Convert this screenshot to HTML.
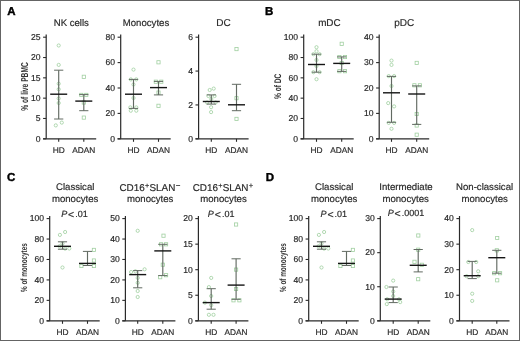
<!DOCTYPE html>
<html><head><meta charset="utf-8"><style>
html,body{margin:0;padding:0;background:#fff;width:520px;height:341px;overflow:hidden}
svg{will-change:transform} svg text{font-family:"Liberation Sans", sans-serif;fill:#2a2a2a;stroke:#2a2a2a;stroke-width:0.18px;text-rendering:geometricPrecision}
</style></head><body>
<svg width="520" height="341" viewBox="0 0 520 341" style="display:block">
<rect x="0" y="0" width="520" height="341" fill="#fff"/>
<g><line x1="46.2" y1="34.6" x2="46.2" y2="138.8" stroke="#2a2a2a" stroke-width="1.2"/><line x1="43.1" y1="138.8" x2="96.2" y2="138.8" stroke="#2a2a2a" stroke-width="1.2"/><line x1="43.1" y1="138.80" x2="46.2" y2="138.80" stroke="#2a2a2a" stroke-width="1.1"/><text x="40.6" y="141.60" text-anchor="end" font-size="8.6">0</text><line x1="43.1" y1="118.48" x2="46.2" y2="118.48" stroke="#2a2a2a" stroke-width="1.1"/><text x="40.6" y="121.28" text-anchor="end" font-size="8.6">5</text><line x1="43.1" y1="98.16" x2="46.2" y2="98.16" stroke="#2a2a2a" stroke-width="1.1"/><text x="40.6" y="100.96" text-anchor="end" font-size="8.6">10</text><line x1="43.1" y1="77.84" x2="46.2" y2="77.84" stroke="#2a2a2a" stroke-width="1.1"/><text x="40.6" y="80.64" text-anchor="end" font-size="8.6">15</text><line x1="43.1" y1="57.52" x2="46.2" y2="57.52" stroke="#2a2a2a" stroke-width="1.1"/><text x="40.6" y="60.32" text-anchor="end" font-size="8.6">20</text><line x1="43.1" y1="37.20" x2="46.2" y2="37.20" stroke="#2a2a2a" stroke-width="1.1"/><text x="40.6" y="40.00" text-anchor="end" font-size="8.6">25</text><line x1="58.7" y1="138.8" x2="58.7" y2="141.8" stroke="#2a2a2a" stroke-width="1.1"/><line x1="83.8" y1="138.8" x2="83.8" y2="141.8" stroke="#2a2a2a" stroke-width="1.1"/><text x="58.7" y="152.70000000000002" text-anchor="middle" font-size="8.4">HD</text><text x="83.8" y="152.70000000000002" text-anchor="middle" font-size="8.3">ADAN</text><circle cx="58.7" cy="45.5" r="1.6" fill="none" stroke="#a0cfa0" stroke-width="0.8"/><circle cx="58.7" cy="64.9" r="1.6" fill="none" stroke="#a0cfa0" stroke-width="0.8"/><circle cx="58.7" cy="83.7" r="1.6" fill="none" stroke="#a0cfa0" stroke-width="0.8"/><circle cx="58.7" cy="89.3" r="1.6" fill="none" stroke="#a0cfa0" stroke-width="0.8"/><circle cx="58.7" cy="98.5" r="1.6" fill="none" stroke="#a0cfa0" stroke-width="0.8"/><circle cx="58.7" cy="103" r="1.6" fill="none" stroke="#a0cfa0" stroke-width="0.8"/><circle cx="55.800000000000004" cy="125.4" r="1.6" fill="none" stroke="#a0cfa0" stroke-width="0.8"/><circle cx="61.800000000000004" cy="122.6" r="1.6" fill="none" stroke="#a0cfa0" stroke-width="0.8"/><rect x="82.2" y="75.2" width="3.2" height="3.2" fill="none" stroke="#a0cfa0" stroke-width="0.8"/><rect x="79.7" y="93.30000000000001" width="3.2" height="3.2" fill="none" stroke="#a0cfa0" stroke-width="0.8"/><rect x="84.7" y="93.30000000000001" width="3.2" height="3.2" fill="none" stroke="#a0cfa0" stroke-width="0.8"/><rect x="82.2" y="100.9" width="3.2" height="3.2" fill="none" stroke="#a0cfa0" stroke-width="0.8"/><rect x="82.2" y="116.0" width="3.2" height="3.2" fill="none" stroke="#a0cfa0" stroke-width="0.8"/><line x1="58.7" y1="70.2" x2="58.7" y2="119.0" stroke="#626a62" stroke-width="1.15"/><line x1="54.1" y1="70.2" x2="63.300000000000004" y2="70.2" stroke="#626a62" stroke-width="1.0"/><line x1="54.1" y1="119.0" x2="63.300000000000004" y2="119.0" stroke="#626a62" stroke-width="1.0"/><line x1="50.2" y1="94.2" x2="67.2" y2="94.2" stroke="#151515" stroke-width="1.4"/><line x1="83.8" y1="94.6" x2="83.8" y2="110.7" stroke="#626a62" stroke-width="1.15"/><line x1="79.2" y1="94.6" x2="88.39999999999999" y2="94.6" stroke="#626a62" stroke-width="1.0"/><line x1="79.2" y1="110.7" x2="88.39999999999999" y2="110.7" stroke="#626a62" stroke-width="1.0"/><line x1="75.3" y1="101.1" x2="92.3" y2="101.1" stroke="#151515" stroke-width="1.4"/></g>
<g><line x1="120.7" y1="34.6" x2="120.7" y2="138.8" stroke="#2a2a2a" stroke-width="1.2"/><line x1="117.60000000000001" y1="138.8" x2="170.7" y2="138.8" stroke="#2a2a2a" stroke-width="1.2"/><line x1="117.60000000000001" y1="138.80" x2="120.7" y2="138.80" stroke="#2a2a2a" stroke-width="1.1"/><text x="115.10000000000001" y="141.60" text-anchor="end" font-size="8.6">0</text><line x1="117.60000000000001" y1="113.40" x2="120.7" y2="113.40" stroke="#2a2a2a" stroke-width="1.1"/><text x="115.10000000000001" y="116.20" text-anchor="end" font-size="8.6">20</text><line x1="117.60000000000001" y1="88.00" x2="120.7" y2="88.00" stroke="#2a2a2a" stroke-width="1.1"/><text x="115.10000000000001" y="90.80" text-anchor="end" font-size="8.6">40</text><line x1="117.60000000000001" y1="62.60" x2="120.7" y2="62.60" stroke="#2a2a2a" stroke-width="1.1"/><text x="115.10000000000001" y="65.40" text-anchor="end" font-size="8.6">60</text><line x1="117.60000000000001" y1="37.20" x2="120.7" y2="37.20" stroke="#2a2a2a" stroke-width="1.1"/><text x="115.10000000000001" y="40.00" text-anchor="end" font-size="8.6">80</text><line x1="133.5" y1="138.8" x2="133.5" y2="141.8" stroke="#2a2a2a" stroke-width="1.1"/><line x1="158.5" y1="138.8" x2="158.5" y2="141.8" stroke="#2a2a2a" stroke-width="1.1"/><text x="133.5" y="152.70000000000002" text-anchor="middle" font-size="8.4">HD</text><text x="158.5" y="152.70000000000002" text-anchor="middle" font-size="8.3">ADAN</text><circle cx="133.5" cy="69.6" r="1.6" fill="none" stroke="#a0cfa0" stroke-width="0.8"/><circle cx="130.8" cy="79.4" r="1.6" fill="none" stroke="#a0cfa0" stroke-width="0.8"/><circle cx="136.3" cy="79.4" r="1.6" fill="none" stroke="#a0cfa0" stroke-width="0.8"/><circle cx="133.5" cy="84.5" r="1.6" fill="none" stroke="#a0cfa0" stroke-width="0.8"/><circle cx="133.5" cy="98" r="1.6" fill="none" stroke="#a0cfa0" stroke-width="0.8"/><circle cx="130.3" cy="107.4" r="1.6" fill="none" stroke="#a0cfa0" stroke-width="0.8"/><circle cx="136.3" cy="107.4" r="1.6" fill="none" stroke="#a0cfa0" stroke-width="0.8"/><circle cx="130.8" cy="110.7" r="1.6" fill="none" stroke="#a0cfa0" stroke-width="0.8"/><circle cx="136.3" cy="110.7" r="1.6" fill="none" stroke="#a0cfa0" stroke-width="0.8"/><rect x="156.9" y="60.699999999999996" width="3.2" height="3.2" fill="none" stroke="#a0cfa0" stroke-width="0.8"/><rect x="154.20000000000002" y="80.10000000000001" width="3.2" height="3.2" fill="none" stroke="#a0cfa0" stroke-width="0.8"/><rect x="159.70000000000002" y="80.10000000000001" width="3.2" height="3.2" fill="none" stroke="#a0cfa0" stroke-width="0.8"/><rect x="156.9" y="91.0" width="3.2" height="3.2" fill="none" stroke="#a0cfa0" stroke-width="0.8"/><rect x="156.9" y="104.2" width="3.2" height="3.2" fill="none" stroke="#a0cfa0" stroke-width="0.8"/><line x1="133.5" y1="79.4" x2="133.5" y2="108.4" stroke="#626a62" stroke-width="1.15"/><line x1="128.9" y1="79.4" x2="138.1" y2="79.4" stroke="#626a62" stroke-width="1.0"/><line x1="128.9" y1="108.4" x2="138.1" y2="108.4" stroke="#626a62" stroke-width="1.0"/><line x1="125.0" y1="94.2" x2="142.0" y2="94.2" stroke="#151515" stroke-width="1.4"/><line x1="158.5" y1="81.4" x2="158.5" y2="94.9" stroke="#626a62" stroke-width="1.15"/><line x1="153.9" y1="81.4" x2="163.1" y2="81.4" stroke="#626a62" stroke-width="1.0"/><line x1="153.9" y1="94.9" x2="163.1" y2="94.9" stroke="#626a62" stroke-width="1.0"/><line x1="150.0" y1="87.6" x2="167.0" y2="87.6" stroke="#151515" stroke-width="1.4"/></g>
<g><line x1="198.6" y1="34.6" x2="198.6" y2="138.8" stroke="#2a2a2a" stroke-width="1.2"/><line x1="195.5" y1="138.8" x2="248.6" y2="138.8" stroke="#2a2a2a" stroke-width="1.2"/><line x1="195.5" y1="138.80" x2="198.6" y2="138.80" stroke="#2a2a2a" stroke-width="1.1"/><text x="193.0" y="141.60" text-anchor="end" font-size="8.6">0</text><line x1="195.5" y1="104.93" x2="198.6" y2="104.93" stroke="#2a2a2a" stroke-width="1.1"/><text x="193.0" y="107.73" text-anchor="end" font-size="8.6">2</text><line x1="195.5" y1="71.07" x2="198.6" y2="71.07" stroke="#2a2a2a" stroke-width="1.1"/><text x="193.0" y="73.87" text-anchor="end" font-size="8.6">4</text><line x1="195.5" y1="37.20" x2="198.6" y2="37.20" stroke="#2a2a2a" stroke-width="1.1"/><text x="193.0" y="40.00" text-anchor="end" font-size="8.6">6</text><line x1="211.3" y1="138.8" x2="211.3" y2="141.8" stroke="#2a2a2a" stroke-width="1.1"/><line x1="236.5" y1="138.8" x2="236.5" y2="141.8" stroke="#2a2a2a" stroke-width="1.1"/><text x="211.3" y="152.70000000000002" text-anchor="middle" font-size="8.4">HD</text><text x="236.5" y="152.70000000000002" text-anchor="middle" font-size="8.3">ADAN</text><circle cx="209.70000000000002" cy="90" r="1.6" fill="none" stroke="#a0cfa0" stroke-width="0.8"/><circle cx="213.70000000000002" cy="88.6" r="1.6" fill="none" stroke="#a0cfa0" stroke-width="0.8"/><circle cx="208.4" cy="96" r="1.6" fill="none" stroke="#a0cfa0" stroke-width="0.8"/><circle cx="214.6" cy="96" r="1.6" fill="none" stroke="#a0cfa0" stroke-width="0.8"/><circle cx="211.3" cy="99" r="1.6" fill="none" stroke="#a0cfa0" stroke-width="0.8"/><circle cx="207.1" cy="102.5" r="1.6" fill="none" stroke="#a0cfa0" stroke-width="0.8"/><circle cx="215.6" cy="102.5" r="1.6" fill="none" stroke="#a0cfa0" stroke-width="0.8"/><circle cx="211.1" cy="107.2" r="1.6" fill="none" stroke="#a0cfa0" stroke-width="0.8"/><circle cx="211.1" cy="112.1" r="1.6" fill="none" stroke="#a0cfa0" stroke-width="0.8"/><rect x="234.9" y="47.5" width="3.2" height="3.2" fill="none" stroke="#a0cfa0" stroke-width="0.8"/><rect x="234.9" y="96.60000000000001" width="3.2" height="3.2" fill="none" stroke="#a0cfa0" stroke-width="0.8"/><rect x="234.9" y="117.30000000000001" width="3.2" height="3.2" fill="none" stroke="#a0cfa0" stroke-width="0.8"/><line x1="211.3" y1="94.9" x2="211.3" y2="104.1" stroke="#626a62" stroke-width="1.15"/><line x1="206.70000000000002" y1="94.9" x2="215.9" y2="94.9" stroke="#626a62" stroke-width="1.0"/><line x1="206.70000000000002" y1="104.1" x2="215.9" y2="104.1" stroke="#626a62" stroke-width="1.0"/><line x1="202.8" y1="101.5" x2="219.8" y2="101.5" stroke="#151515" stroke-width="1.4"/><line x1="236.5" y1="84.3" x2="236.5" y2="110.7" stroke="#626a62" stroke-width="1.15"/><line x1="231.9" y1="84.3" x2="241.1" y2="84.3" stroke="#626a62" stroke-width="1.0"/><line x1="231.9" y1="110.7" x2="241.1" y2="110.7" stroke="#626a62" stroke-width="1.0"/><line x1="228.0" y1="104.8" x2="245.0" y2="104.8" stroke="#151515" stroke-width="1.4"/></g>
<g><line x1="303.7" y1="34.6" x2="303.7" y2="138.8" stroke="#2a2a2a" stroke-width="1.2"/><line x1="300.59999999999997" y1="138.8" x2="353.7" y2="138.8" stroke="#2a2a2a" stroke-width="1.2"/><line x1="300.59999999999997" y1="138.80" x2="303.7" y2="138.80" stroke="#2a2a2a" stroke-width="1.1"/><text x="298.09999999999997" y="141.60" text-anchor="end" font-size="8.6">0</text><line x1="300.59999999999997" y1="118.48" x2="303.7" y2="118.48" stroke="#2a2a2a" stroke-width="1.1"/><text x="298.09999999999997" y="121.28" text-anchor="end" font-size="8.6">20</text><line x1="300.59999999999997" y1="98.16" x2="303.7" y2="98.16" stroke="#2a2a2a" stroke-width="1.1"/><text x="298.09999999999997" y="100.96" text-anchor="end" font-size="8.6">40</text><line x1="300.59999999999997" y1="77.84" x2="303.7" y2="77.84" stroke="#2a2a2a" stroke-width="1.1"/><text x="298.09999999999997" y="80.64" text-anchor="end" font-size="8.6">60</text><line x1="300.59999999999997" y1="57.52" x2="303.7" y2="57.52" stroke="#2a2a2a" stroke-width="1.1"/><text x="298.09999999999997" y="60.32" text-anchor="end" font-size="8.6">80</text><line x1="300.59999999999997" y1="37.20" x2="303.7" y2="37.20" stroke="#2a2a2a" stroke-width="1.1"/><text x="298.09999999999997" y="40.00" text-anchor="end" font-size="8.6">100</text><line x1="316.5" y1="138.8" x2="316.5" y2="141.8" stroke="#2a2a2a" stroke-width="1.1"/><line x1="341.7" y1="138.8" x2="341.7" y2="141.8" stroke="#2a2a2a" stroke-width="1.1"/><text x="316.5" y="152.70000000000002" text-anchor="middle" font-size="8.4">HD</text><text x="341.7" y="152.70000000000002" text-anchor="middle" font-size="8.3">ADAN</text><circle cx="316.5" cy="47.2" r="1.6" fill="none" stroke="#a0cfa0" stroke-width="0.8"/><circle cx="316.5" cy="51.2" r="1.6" fill="none" stroke="#a0cfa0" stroke-width="0.8"/><circle cx="313.4" cy="54.2" r="1.6" fill="none" stroke="#a0cfa0" stroke-width="0.8"/><circle cx="319.6" cy="54.2" r="1.6" fill="none" stroke="#a0cfa0" stroke-width="0.8"/><circle cx="316.5" cy="60" r="1.6" fill="none" stroke="#a0cfa0" stroke-width="0.8"/><circle cx="316.5" cy="66" r="1.6" fill="none" stroke="#a0cfa0" stroke-width="0.8"/><circle cx="313.4" cy="72.2" r="1.6" fill="none" stroke="#a0cfa0" stroke-width="0.8"/><circle cx="319.6" cy="72.2" r="1.6" fill="none" stroke="#a0cfa0" stroke-width="0.8"/><circle cx="316.5" cy="79.2" r="1.6" fill="none" stroke="#a0cfa0" stroke-width="0.8"/><rect x="340.09999999999997" y="42.199999999999996" width="3.2" height="3.2" fill="none" stroke="#a0cfa0" stroke-width="0.8"/><rect x="337.79999999999995" y="55.4" width="3.2" height="3.2" fill="none" stroke="#a0cfa0" stroke-width="0.8"/><rect x="343.4" y="55.4" width="3.2" height="3.2" fill="none" stroke="#a0cfa0" stroke-width="0.8"/><rect x="340.09999999999997" y="61.4" width="3.2" height="3.2" fill="none" stroke="#a0cfa0" stroke-width="0.8"/><rect x="337.79999999999995" y="69.60000000000001" width="3.2" height="3.2" fill="none" stroke="#a0cfa0" stroke-width="0.8"/><rect x="343.4" y="69.60000000000001" width="3.2" height="3.2" fill="none" stroke="#a0cfa0" stroke-width="0.8"/><line x1="316.5" y1="54.2" x2="316.5" y2="72.2" stroke="#626a62" stroke-width="1.15"/><line x1="311.9" y1="54.2" x2="321.1" y2="54.2" stroke="#626a62" stroke-width="1.0"/><line x1="311.9" y1="72.2" x2="321.1" y2="72.2" stroke="#626a62" stroke-width="1.0"/><line x1="308.0" y1="64.5" x2="325.0" y2="64.5" stroke="#151515" stroke-width="1.4"/><line x1="341.7" y1="56.9" x2="341.7" y2="71.4" stroke="#626a62" stroke-width="1.15"/><line x1="337.09999999999997" y1="56.9" x2="346.3" y2="56.9" stroke="#626a62" stroke-width="1.0"/><line x1="337.09999999999997" y1="71.4" x2="346.3" y2="71.4" stroke="#626a62" stroke-width="1.0"/><line x1="333.2" y1="63.4" x2="350.2" y2="63.4" stroke="#151515" stroke-width="1.4"/></g>
<g><line x1="379.2" y1="34.6" x2="379.2" y2="138.8" stroke="#2a2a2a" stroke-width="1.2"/><line x1="376.09999999999997" y1="138.8" x2="429.2" y2="138.8" stroke="#2a2a2a" stroke-width="1.2"/><line x1="376.09999999999997" y1="138.80" x2="379.2" y2="138.80" stroke="#2a2a2a" stroke-width="1.1"/><text x="373.59999999999997" y="141.60" text-anchor="end" font-size="8.6">0</text><line x1="376.09999999999997" y1="113.40" x2="379.2" y2="113.40" stroke="#2a2a2a" stroke-width="1.1"/><text x="373.59999999999997" y="116.20" text-anchor="end" font-size="8.6">10</text><line x1="376.09999999999997" y1="88.00" x2="379.2" y2="88.00" stroke="#2a2a2a" stroke-width="1.1"/><text x="373.59999999999997" y="90.80" text-anchor="end" font-size="8.6">20</text><line x1="376.09999999999997" y1="62.60" x2="379.2" y2="62.60" stroke="#2a2a2a" stroke-width="1.1"/><text x="373.59999999999997" y="65.40" text-anchor="end" font-size="8.6">30</text><line x1="376.09999999999997" y1="37.20" x2="379.2" y2="37.20" stroke="#2a2a2a" stroke-width="1.1"/><text x="373.59999999999997" y="40.00" text-anchor="end" font-size="8.6">40</text><line x1="391.5" y1="138.8" x2="391.5" y2="141.8" stroke="#2a2a2a" stroke-width="1.1"/><line x1="416.7" y1="138.8" x2="416.7" y2="141.8" stroke="#2a2a2a" stroke-width="1.1"/><text x="391.5" y="152.70000000000002" text-anchor="middle" font-size="8.4">HD</text><text x="416.7" y="152.70000000000002" text-anchor="middle" font-size="8.3">ADAN</text><circle cx="391.5" cy="60.6" r="1.6" fill="none" stroke="#a0cfa0" stroke-width="0.8"/><circle cx="391.5" cy="64.9" r="1.6" fill="none" stroke="#a0cfa0" stroke-width="0.8"/><circle cx="388.7" cy="76.1" r="1.6" fill="none" stroke="#a0cfa0" stroke-width="0.8"/><circle cx="394.09999999999997" cy="76.1" r="1.6" fill="none" stroke="#a0cfa0" stroke-width="0.8"/><circle cx="391.5" cy="86" r="1.6" fill="none" stroke="#a0cfa0" stroke-width="0.8"/><circle cx="388.2" cy="103.1" r="1.6" fill="none" stroke="#a0cfa0" stroke-width="0.8"/><circle cx="394.09999999999997" cy="106.4" r="1.6" fill="none" stroke="#a0cfa0" stroke-width="0.8"/><circle cx="388.7" cy="122.9" r="1.6" fill="none" stroke="#a0cfa0" stroke-width="0.8"/><circle cx="394.09999999999997" cy="122.9" r="1.6" fill="none" stroke="#a0cfa0" stroke-width="0.8"/><circle cx="391.5" cy="128.8" r="1.6" fill="none" stroke="#a0cfa0" stroke-width="0.8"/><rect x="415.09999999999997" y="61.3" width="3.2" height="3.2" fill="none" stroke="#a0cfa0" stroke-width="0.8"/><rect x="412.79999999999995" y="83.7" width="3.2" height="3.2" fill="none" stroke="#a0cfa0" stroke-width="0.8"/><rect x="418.29999999999995" y="83.7" width="3.2" height="3.2" fill="none" stroke="#a0cfa0" stroke-width="0.8"/><rect x="415.09999999999997" y="112.4" width="3.2" height="3.2" fill="none" stroke="#a0cfa0" stroke-width="0.8"/><rect x="415.09999999999997" y="123.9" width="3.2" height="3.2" fill="none" stroke="#a0cfa0" stroke-width="0.8"/><rect x="415.09999999999997" y="133.1" width="3.2" height="3.2" fill="none" stroke="#a0cfa0" stroke-width="0.8"/><line x1="391.5" y1="76.4" x2="391.5" y2="122.3" stroke="#626a62" stroke-width="1.15"/><line x1="386.9" y1="76.4" x2="396.1" y2="76.4" stroke="#626a62" stroke-width="1.0"/><line x1="386.9" y1="122.3" x2="396.1" y2="122.3" stroke="#626a62" stroke-width="1.0"/><line x1="383.0" y1="92.8" x2="400.0" y2="92.8" stroke="#151515" stroke-width="1.4"/><line x1="416.7" y1="85.9" x2="416.7" y2="124.4" stroke="#626a62" stroke-width="1.15"/><line x1="412.09999999999997" y1="85.9" x2="421.3" y2="85.9" stroke="#626a62" stroke-width="1.0"/><line x1="412.09999999999997" y1="124.4" x2="421.3" y2="124.4" stroke="#626a62" stroke-width="1.0"/><line x1="408.2" y1="94.0" x2="425.2" y2="94.0" stroke="#151515" stroke-width="1.4"/></g>
<g><line x1="49.7" y1="216.0" x2="49.7" y2="320.8" stroke="#2a2a2a" stroke-width="1.2"/><line x1="46.6" y1="320.8" x2="99.7" y2="320.8" stroke="#2a2a2a" stroke-width="1.2"/><line x1="46.6" y1="320.80" x2="49.7" y2="320.80" stroke="#2a2a2a" stroke-width="1.1"/><text x="44.1" y="323.60" text-anchor="end" font-size="8.6">0</text><line x1="46.6" y1="300.36" x2="49.7" y2="300.36" stroke="#2a2a2a" stroke-width="1.1"/><text x="44.1" y="303.16" text-anchor="end" font-size="8.6">20</text><line x1="46.6" y1="279.92" x2="49.7" y2="279.92" stroke="#2a2a2a" stroke-width="1.1"/><text x="44.1" y="282.72" text-anchor="end" font-size="8.6">40</text><line x1="46.6" y1="259.48" x2="49.7" y2="259.48" stroke="#2a2a2a" stroke-width="1.1"/><text x="44.1" y="262.28" text-anchor="end" font-size="8.6">60</text><line x1="46.6" y1="239.04" x2="49.7" y2="239.04" stroke="#2a2a2a" stroke-width="1.1"/><text x="44.1" y="241.84" text-anchor="end" font-size="8.6">80</text><line x1="46.6" y1="218.60" x2="49.7" y2="218.60" stroke="#2a2a2a" stroke-width="1.1"/><text x="44.1" y="221.40" text-anchor="end" font-size="8.6">100</text><line x1="62.5" y1="320.8" x2="62.5" y2="323.8" stroke="#2a2a2a" stroke-width="1.1"/><line x1="87.5" y1="320.8" x2="87.5" y2="323.8" stroke="#2a2a2a" stroke-width="1.1"/><text x="62.5" y="334.7" text-anchor="middle" font-size="8.4">HD</text><text x="87.5" y="334.7" text-anchor="middle" font-size="8.3">ADAN</text><circle cx="59.9" cy="234.9" r="1.6" fill="none" stroke="#a0cfa0" stroke-width="0.8"/><circle cx="65.1" cy="232.0" r="1.6" fill="none" stroke="#a0cfa0" stroke-width="0.8"/><circle cx="62.5" cy="243.5" r="1.6" fill="none" stroke="#a0cfa0" stroke-width="0.8"/><circle cx="59.6" cy="246.2" r="1.6" fill="none" stroke="#a0cfa0" stroke-width="0.8"/><circle cx="65.1" cy="248.6" r="1.6" fill="none" stroke="#a0cfa0" stroke-width="0.8"/><circle cx="69.30000000000001" cy="248.5" r="1.6" fill="none" stroke="#a0cfa0" stroke-width="0.8"/><circle cx="62.5" cy="267.5" r="1.6" fill="none" stroke="#a0cfa0" stroke-width="0.8"/><rect x="92.3" y="248.3" width="3.2" height="3.2" fill="none" stroke="#a0cfa0" stroke-width="0.8"/><rect x="92.3" y="258.9" width="3.2" height="3.2" fill="none" stroke="#a0cfa0" stroke-width="0.8"/><rect x="79.8" y="264.4" width="3.2" height="3.2" fill="none" stroke="#a0cfa0" stroke-width="0.8"/><rect x="92.3" y="264.4" width="3.2" height="3.2" fill="none" stroke="#a0cfa0" stroke-width="0.8"/><line x1="62.5" y1="241.8" x2="62.5" y2="249.2" stroke="#626a62" stroke-width="1.15"/><line x1="57.9" y1="241.8" x2="67.1" y2="241.8" stroke="#626a62" stroke-width="1.0"/><line x1="57.9" y1="249.2" x2="67.1" y2="249.2" stroke="#626a62" stroke-width="1.0"/><line x1="54.0" y1="246.3" x2="71.0" y2="246.3" stroke="#151515" stroke-width="1.4"/><line x1="87.5" y1="251.4" x2="87.5" y2="265.5" stroke="#626a62" stroke-width="1.15"/><line x1="82.9" y1="251.4" x2="92.1" y2="251.4" stroke="#626a62" stroke-width="1.0"/><line x1="82.9" y1="265.5" x2="92.1" y2="265.5" stroke="#626a62" stroke-width="1.0"/><line x1="79.0" y1="263.4" x2="96.0" y2="263.4" stroke="#151515" stroke-width="1.4"/></g>
<g><line x1="125.4" y1="216.0" x2="125.4" y2="320.8" stroke="#2a2a2a" stroke-width="1.2"/><line x1="122.30000000000001" y1="320.8" x2="175.4" y2="320.8" stroke="#2a2a2a" stroke-width="1.2"/><line x1="122.30000000000001" y1="320.80" x2="125.4" y2="320.80" stroke="#2a2a2a" stroke-width="1.1"/><text x="119.80000000000001" y="323.60" text-anchor="end" font-size="8.6">0</text><line x1="122.30000000000001" y1="300.36" x2="125.4" y2="300.36" stroke="#2a2a2a" stroke-width="1.1"/><text x="119.80000000000001" y="303.16" text-anchor="end" font-size="8.6">10</text><line x1="122.30000000000001" y1="279.92" x2="125.4" y2="279.92" stroke="#2a2a2a" stroke-width="1.1"/><text x="119.80000000000001" y="282.72" text-anchor="end" font-size="8.6">20</text><line x1="122.30000000000001" y1="259.48" x2="125.4" y2="259.48" stroke="#2a2a2a" stroke-width="1.1"/><text x="119.80000000000001" y="262.28" text-anchor="end" font-size="8.6">30</text><line x1="122.30000000000001" y1="239.04" x2="125.4" y2="239.04" stroke="#2a2a2a" stroke-width="1.1"/><text x="119.80000000000001" y="241.84" text-anchor="end" font-size="8.6">40</text><line x1="122.30000000000001" y1="218.60" x2="125.4" y2="218.60" stroke="#2a2a2a" stroke-width="1.1"/><text x="119.80000000000001" y="221.40" text-anchor="end" font-size="8.6">50</text><line x1="137.7" y1="320.8" x2="137.7" y2="323.8" stroke="#2a2a2a" stroke-width="1.1"/><line x1="162.8" y1="320.8" x2="162.8" y2="323.8" stroke="#2a2a2a" stroke-width="1.1"/><text x="137.7" y="334.7" text-anchor="middle" font-size="8.4">HD</text><text x="162.8" y="334.7" text-anchor="middle" font-size="8.3">ADAN</text><circle cx="137.7" cy="230.8" r="1.6" fill="none" stroke="#a0cfa0" stroke-width="0.8"/><circle cx="131.09999999999997" cy="272" r="1.6" fill="none" stroke="#a0cfa0" stroke-width="0.8"/><circle cx="144.59999999999997" cy="269.3" r="1.6" fill="none" stroke="#a0cfa0" stroke-width="0.8"/><circle cx="135.39999999999998" cy="271.3" r="1.6" fill="none" stroke="#a0cfa0" stroke-width="0.8"/><circle cx="137.7" cy="277.9" r="1.6" fill="none" stroke="#a0cfa0" stroke-width="0.8"/><circle cx="137.7" cy="282.8" r="1.6" fill="none" stroke="#a0cfa0" stroke-width="0.8"/><circle cx="137.7" cy="291" r="1.6" fill="none" stroke="#a0cfa0" stroke-width="0.8"/><circle cx="137.7" cy="297" r="1.6" fill="none" stroke="#a0cfa0" stroke-width="0.8"/><rect x="161.9" y="234.1" width="3.2" height="3.2" fill="none" stroke="#a0cfa0" stroke-width="0.8"/><rect x="159.50000000000003" y="242.70000000000002" width="3.2" height="3.2" fill="none" stroke="#a0cfa0" stroke-width="0.8"/><rect x="164.50000000000003" y="242.70000000000002" width="3.2" height="3.2" fill="none" stroke="#a0cfa0" stroke-width="0.8"/><rect x="161.20000000000002" y="263.09999999999997" width="3.2" height="3.2" fill="none" stroke="#a0cfa0" stroke-width="0.8"/><rect x="158.60000000000002" y="275.59999999999997" width="3.2" height="3.2" fill="none" stroke="#a0cfa0" stroke-width="0.8"/><rect x="164.50000000000003" y="273.59999999999997" width="3.2" height="3.2" fill="none" stroke="#a0cfa0" stroke-width="0.8"/><line x1="137.7" y1="270.6" x2="137.7" y2="287.8" stroke="#626a62" stroke-width="1.15"/><line x1="133.1" y1="270.6" x2="142.29999999999998" y2="270.6" stroke="#626a62" stroke-width="1.0"/><line x1="133.1" y1="287.8" x2="142.29999999999998" y2="287.8" stroke="#626a62" stroke-width="1.0"/><line x1="129.2" y1="274.6" x2="146.2" y2="274.6" stroke="#151515" stroke-width="1.4"/><line x1="162.8" y1="244.3" x2="162.8" y2="275.6" stroke="#626a62" stroke-width="1.15"/><line x1="158.20000000000002" y1="244.3" x2="167.4" y2="244.3" stroke="#626a62" stroke-width="1.0"/><line x1="158.20000000000002" y1="275.6" x2="167.4" y2="275.6" stroke="#626a62" stroke-width="1.0"/><line x1="154.3" y1="250.9" x2="171.3" y2="250.9" stroke="#151515" stroke-width="1.4"/></g>
<g><line x1="198.4" y1="216.0" x2="198.4" y2="320.8" stroke="#2a2a2a" stroke-width="1.2"/><line x1="195.3" y1="320.8" x2="248.4" y2="320.8" stroke="#2a2a2a" stroke-width="1.2"/><line x1="195.3" y1="320.80" x2="198.4" y2="320.80" stroke="#2a2a2a" stroke-width="1.1"/><text x="192.8" y="323.60" text-anchor="end" font-size="8.6">0</text><line x1="195.3" y1="295.25" x2="198.4" y2="295.25" stroke="#2a2a2a" stroke-width="1.1"/><text x="192.8" y="298.05" text-anchor="end" font-size="8.6">5</text><line x1="195.3" y1="269.70" x2="198.4" y2="269.70" stroke="#2a2a2a" stroke-width="1.1"/><text x="192.8" y="272.50" text-anchor="end" font-size="8.6">10</text><line x1="195.3" y1="244.15" x2="198.4" y2="244.15" stroke="#2a2a2a" stroke-width="1.1"/><text x="192.8" y="246.95" text-anchor="end" font-size="8.6">15</text><line x1="195.3" y1="218.60" x2="198.4" y2="218.60" stroke="#2a2a2a" stroke-width="1.1"/><text x="192.8" y="221.40" text-anchor="end" font-size="8.6">20</text><line x1="211.2" y1="320.8" x2="211.2" y2="323.8" stroke="#2a2a2a" stroke-width="1.1"/><line x1="236.1" y1="320.8" x2="236.1" y2="323.8" stroke="#2a2a2a" stroke-width="1.1"/><text x="211.2" y="334.7" text-anchor="middle" font-size="8.4">HD</text><text x="236.1" y="334.7" text-anchor="middle" font-size="8.3">ADAN</text><circle cx="211.2" cy="277.9" r="1.6" fill="none" stroke="#a0cfa0" stroke-width="0.8"/><circle cx="208.89999999999998" cy="287.1" r="1.6" fill="none" stroke="#a0cfa0" stroke-width="0.8"/><circle cx="211.2" cy="296" r="1.6" fill="none" stroke="#a0cfa0" stroke-width="0.8"/><circle cx="204.89999999999998" cy="302.6" r="1.6" fill="none" stroke="#a0cfa0" stroke-width="0.8"/><circle cx="211.2" cy="305.2" r="1.6" fill="none" stroke="#a0cfa0" stroke-width="0.8"/><circle cx="208.89999999999998" cy="314.8" r="1.6" fill="none" stroke="#a0cfa0" stroke-width="0.8"/><circle cx="213.49999999999997" cy="314.8" r="1.6" fill="none" stroke="#a0cfa0" stroke-width="0.8"/><rect x="234.5" y="222.9" width="3.2" height="3.2" fill="none" stroke="#a0cfa0" stroke-width="0.8"/><rect x="234.5" y="268.0" width="3.2" height="3.2" fill="none" stroke="#a0cfa0" stroke-width="0.8"/><rect x="234.5" y="287.4" width="3.2" height="3.2" fill="none" stroke="#a0cfa0" stroke-width="0.8"/><rect x="231.9" y="298.7" width="3.2" height="3.2" fill="none" stroke="#a0cfa0" stroke-width="0.8"/><rect x="237.8" y="298.7" width="3.2" height="3.2" fill="none" stroke="#a0cfa0" stroke-width="0.8"/><line x1="211.2" y1="288.7" x2="211.2" y2="309.2" stroke="#626a62" stroke-width="1.15"/><line x1="206.6" y1="288.7" x2="215.79999999999998" y2="288.7" stroke="#626a62" stroke-width="1.0"/><line x1="206.6" y1="309.2" x2="215.79999999999998" y2="309.2" stroke="#626a62" stroke-width="1.0"/><line x1="202.7" y1="302.6" x2="219.7" y2="302.6" stroke="#151515" stroke-width="1.4"/><line x1="236.1" y1="258.8" x2="236.1" y2="299.3" stroke="#626a62" stroke-width="1.15"/><line x1="231.5" y1="258.8" x2="240.7" y2="258.8" stroke="#626a62" stroke-width="1.0"/><line x1="231.5" y1="299.3" x2="240.7" y2="299.3" stroke="#626a62" stroke-width="1.0"/><line x1="227.6" y1="285.1" x2="244.6" y2="285.1" stroke="#151515" stroke-width="1.4"/></g>
<g><line x1="308.7" y1="216.0" x2="308.7" y2="320.8" stroke="#2a2a2a" stroke-width="1.2"/><line x1="305.59999999999997" y1="320.8" x2="358.7" y2="320.8" stroke="#2a2a2a" stroke-width="1.2"/><line x1="305.59999999999997" y1="320.80" x2="308.7" y2="320.80" stroke="#2a2a2a" stroke-width="1.1"/><text x="303.09999999999997" y="323.60" text-anchor="end" font-size="8.6">0</text><line x1="305.59999999999997" y1="300.36" x2="308.7" y2="300.36" stroke="#2a2a2a" stroke-width="1.1"/><text x="303.09999999999997" y="303.16" text-anchor="end" font-size="8.6">20</text><line x1="305.59999999999997" y1="279.92" x2="308.7" y2="279.92" stroke="#2a2a2a" stroke-width="1.1"/><text x="303.09999999999997" y="282.72" text-anchor="end" font-size="8.6">40</text><line x1="305.59999999999997" y1="259.48" x2="308.7" y2="259.48" stroke="#2a2a2a" stroke-width="1.1"/><text x="303.09999999999997" y="262.28" text-anchor="end" font-size="8.6">60</text><line x1="305.59999999999997" y1="239.04" x2="308.7" y2="239.04" stroke="#2a2a2a" stroke-width="1.1"/><text x="303.09999999999997" y="241.84" text-anchor="end" font-size="8.6">80</text><line x1="305.59999999999997" y1="218.60" x2="308.7" y2="218.60" stroke="#2a2a2a" stroke-width="1.1"/><text x="303.09999999999997" y="221.40" text-anchor="end" font-size="8.6">100</text><line x1="321.5" y1="320.8" x2="321.5" y2="323.8" stroke="#2a2a2a" stroke-width="1.1"/><line x1="346.5" y1="320.8" x2="346.5" y2="323.8" stroke="#2a2a2a" stroke-width="1.1"/><text x="321.5" y="334.7" text-anchor="middle" font-size="8.4">HD</text><text x="346.5" y="334.7" text-anchor="middle" font-size="8.3">ADAN</text><circle cx="318.90000000000003" cy="234.9" r="1.6" fill="none" stroke="#a0cfa0" stroke-width="0.8"/><circle cx="324.1" cy="232.0" r="1.6" fill="none" stroke="#a0cfa0" stroke-width="0.8"/><circle cx="321.5" cy="243.5" r="1.6" fill="none" stroke="#a0cfa0" stroke-width="0.8"/><circle cx="318.6" cy="246.2" r="1.6" fill="none" stroke="#a0cfa0" stroke-width="0.8"/><circle cx="324.1" cy="248.6" r="1.6" fill="none" stroke="#a0cfa0" stroke-width="0.8"/><circle cx="328.3" cy="248.5" r="1.6" fill="none" stroke="#a0cfa0" stroke-width="0.8"/><circle cx="321.5" cy="267.5" r="1.6" fill="none" stroke="#a0cfa0" stroke-width="0.8"/><rect x="351.3" y="248.3" width="3.2" height="3.2" fill="none" stroke="#a0cfa0" stroke-width="0.8"/><rect x="351.3" y="258.9" width="3.2" height="3.2" fill="none" stroke="#a0cfa0" stroke-width="0.8"/><rect x="338.8" y="264.4" width="3.2" height="3.2" fill="none" stroke="#a0cfa0" stroke-width="0.8"/><rect x="351.3" y="264.4" width="3.2" height="3.2" fill="none" stroke="#a0cfa0" stroke-width="0.8"/><line x1="321.5" y1="241.8" x2="321.5" y2="249.2" stroke="#626a62" stroke-width="1.15"/><line x1="316.9" y1="241.8" x2="326.1" y2="241.8" stroke="#626a62" stroke-width="1.0"/><line x1="316.9" y1="249.2" x2="326.1" y2="249.2" stroke="#626a62" stroke-width="1.0"/><line x1="313.0" y1="246.3" x2="330.0" y2="246.3" stroke="#151515" stroke-width="1.4"/><line x1="346.5" y1="251.4" x2="346.5" y2="265.5" stroke="#626a62" stroke-width="1.15"/><line x1="341.9" y1="251.4" x2="351.1" y2="251.4" stroke="#626a62" stroke-width="1.0"/><line x1="341.9" y1="265.5" x2="351.1" y2="265.5" stroke="#626a62" stroke-width="1.0"/><line x1="338.0" y1="263.4" x2="355.0" y2="263.4" stroke="#151515" stroke-width="1.4"/></g>
<g><line x1="380.3" y1="216.0" x2="380.3" y2="320.8" stroke="#2a2a2a" stroke-width="1.2"/><line x1="377.2" y1="320.8" x2="430.3" y2="320.8" stroke="#2a2a2a" stroke-width="1.2"/><line x1="377.2" y1="320.80" x2="380.3" y2="320.80" stroke="#2a2a2a" stroke-width="1.1"/><text x="374.7" y="323.60" text-anchor="end" font-size="8.6">0</text><line x1="377.2" y1="286.73" x2="380.3" y2="286.73" stroke="#2a2a2a" stroke-width="1.1"/><text x="374.7" y="289.53" text-anchor="end" font-size="8.6">10</text><line x1="377.2" y1="252.67" x2="380.3" y2="252.67" stroke="#2a2a2a" stroke-width="1.1"/><text x="374.7" y="255.47" text-anchor="end" font-size="8.6">20</text><line x1="377.2" y1="218.60" x2="380.3" y2="218.60" stroke="#2a2a2a" stroke-width="1.1"/><text x="374.7" y="221.40" text-anchor="end" font-size="8.6">30</text><line x1="393.2" y1="320.8" x2="393.2" y2="323.8" stroke="#2a2a2a" stroke-width="1.1"/><line x1="418.2" y1="320.8" x2="418.2" y2="323.8" stroke="#2a2a2a" stroke-width="1.1"/><text x="393.2" y="334.7" text-anchor="middle" font-size="8.4">HD</text><text x="418.2" y="334.7" text-anchor="middle" font-size="8.3">ADAN</text><circle cx="393.2" cy="280.6" r="1.6" fill="none" stroke="#a0cfa0" stroke-width="0.8"/><circle cx="386.4" cy="287" r="1.6" fill="none" stroke="#a0cfa0" stroke-width="0.8"/><circle cx="393.2" cy="291.5" r="1.6" fill="none" stroke="#a0cfa0" stroke-width="0.8"/><circle cx="393.2" cy="296" r="1.6" fill="none" stroke="#a0cfa0" stroke-width="0.8"/><circle cx="387.2" cy="299.3" r="1.6" fill="none" stroke="#a0cfa0" stroke-width="0.8"/><circle cx="399.0" cy="299.3" r="1.6" fill="none" stroke="#a0cfa0" stroke-width="0.8"/><circle cx="386.8" cy="304.1" r="1.6" fill="none" stroke="#a0cfa0" stroke-width="0.8"/><circle cx="400.2" cy="302.1" r="1.6" fill="none" stroke="#a0cfa0" stroke-width="0.8"/><rect x="416.7" y="233.9" width="3.2" height="3.2" fill="none" stroke="#a0cfa0" stroke-width="0.8"/><rect x="416.59999999999997" y="248.1" width="3.2" height="3.2" fill="none" stroke="#a0cfa0" stroke-width="0.8"/><rect x="412.9" y="260.2" width="3.2" height="3.2" fill="none" stroke="#a0cfa0" stroke-width="0.8"/><rect x="420.2" y="263.2" width="3.2" height="3.2" fill="none" stroke="#a0cfa0" stroke-width="0.8"/><rect x="416.59999999999997" y="277.59999999999997" width="3.2" height="3.2" fill="none" stroke="#a0cfa0" stroke-width="0.8"/><line x1="393.2" y1="287.0" x2="393.2" y2="302.6" stroke="#626a62" stroke-width="1.15"/><line x1="388.59999999999997" y1="287.0" x2="397.8" y2="287.0" stroke="#626a62" stroke-width="1.0"/><line x1="388.59999999999997" y1="302.6" x2="397.8" y2="302.6" stroke="#626a62" stroke-width="1.0"/><line x1="384.7" y1="299.1" x2="401.7" y2="299.1" stroke="#151515" stroke-width="1.4"/><line x1="418.2" y1="249.5" x2="418.2" y2="271.9" stroke="#626a62" stroke-width="1.15"/><line x1="413.59999999999997" y1="249.5" x2="422.8" y2="249.5" stroke="#626a62" stroke-width="1.0"/><line x1="413.59999999999997" y1="271.9" x2="422.8" y2="271.9" stroke="#626a62" stroke-width="1.0"/><line x1="409.7" y1="265.3" x2="426.7" y2="265.3" stroke="#151515" stroke-width="1.4"/></g>
<g><line x1="459.5" y1="216.0" x2="459.5" y2="320.8" stroke="#2a2a2a" stroke-width="1.2"/><line x1="456.4" y1="320.8" x2="509.5" y2="320.8" stroke="#2a2a2a" stroke-width="1.2"/><line x1="456.4" y1="320.80" x2="459.5" y2="320.80" stroke="#2a2a2a" stroke-width="1.1"/><text x="453.9" y="323.60" text-anchor="end" font-size="8.6">0</text><line x1="456.4" y1="295.25" x2="459.5" y2="295.25" stroke="#2a2a2a" stroke-width="1.1"/><text x="453.9" y="298.05" text-anchor="end" font-size="8.6">10</text><line x1="456.4" y1="269.70" x2="459.5" y2="269.70" stroke="#2a2a2a" stroke-width="1.1"/><text x="453.9" y="272.50" text-anchor="end" font-size="8.6">20</text><line x1="456.4" y1="244.15" x2="459.5" y2="244.15" stroke="#2a2a2a" stroke-width="1.1"/><text x="453.9" y="246.95" text-anchor="end" font-size="8.6">30</text><line x1="456.4" y1="218.60" x2="459.5" y2="218.60" stroke="#2a2a2a" stroke-width="1.1"/><text x="453.9" y="221.40" text-anchor="end" font-size="8.6">40</text><line x1="472.2" y1="320.8" x2="472.2" y2="323.8" stroke="#2a2a2a" stroke-width="1.1"/><line x1="496.8" y1="320.8" x2="496.8" y2="323.8" stroke="#2a2a2a" stroke-width="1.1"/><text x="472.2" y="334.7" text-anchor="middle" font-size="8.4">HD</text><text x="496.8" y="334.7" text-anchor="middle" font-size="8.3">ADAN</text><circle cx="472.2" cy="230.1" r="1.6" fill="none" stroke="#a0cfa0" stroke-width="0.8"/><circle cx="468.29999999999995" cy="262" r="1.6" fill="none" stroke="#a0cfa0" stroke-width="0.8"/><circle cx="476.2" cy="262" r="1.6" fill="none" stroke="#a0cfa0" stroke-width="0.8"/><circle cx="478.2" cy="271.3" r="1.6" fill="none" stroke="#a0cfa0" stroke-width="0.8"/><circle cx="466.59999999999997" cy="276.2" r="1.6" fill="none" stroke="#a0cfa0" stroke-width="0.8"/><circle cx="478.2" cy="276.2" r="1.6" fill="none" stroke="#a0cfa0" stroke-width="0.8"/><circle cx="472.2" cy="293.7" r="1.6" fill="none" stroke="#a0cfa0" stroke-width="0.8"/><circle cx="472.2" cy="300.9" r="1.6" fill="none" stroke="#a0cfa0" stroke-width="0.8"/><rect x="495.59999999999997" y="236.4" width="3.2" height="3.2" fill="none" stroke="#a0cfa0" stroke-width="0.8"/><rect x="495.2" y="248.70000000000002" width="3.2" height="3.2" fill="none" stroke="#a0cfa0" stroke-width="0.8"/><rect x="492.59999999999997" y="271.59999999999997" width="3.2" height="3.2" fill="none" stroke="#a0cfa0" stroke-width="0.8"/><rect x="498.5" y="271.59999999999997" width="3.2" height="3.2" fill="none" stroke="#a0cfa0" stroke-width="0.8"/><rect x="495.59999999999997" y="278.7" width="3.2" height="3.2" fill="none" stroke="#a0cfa0" stroke-width="0.8"/><line x1="472.2" y1="261.4" x2="472.2" y2="278.6" stroke="#626a62" stroke-width="1.15"/><line x1="467.59999999999997" y1="261.4" x2="476.8" y2="261.4" stroke="#626a62" stroke-width="1.0"/><line x1="467.59999999999997" y1="278.6" x2="476.8" y2="278.6" stroke="#626a62" stroke-width="1.0"/><line x1="463.7" y1="275.7" x2="480.7" y2="275.7" stroke="#151515" stroke-width="1.4"/><line x1="496.8" y1="250.3" x2="496.8" y2="273.2" stroke="#626a62" stroke-width="1.15"/><line x1="492.2" y1="250.3" x2="501.40000000000003" y2="250.3" stroke="#626a62" stroke-width="1.0"/><line x1="492.2" y1="273.2" x2="501.40000000000003" y2="273.2" stroke="#626a62" stroke-width="1.0"/><line x1="488.3" y1="257.7" x2="505.3" y2="257.7" stroke="#151515" stroke-width="1.4"/></g>
<text x="71.3" y="25.7" text-anchor="middle" font-size="9.6" >NK cells</text>
<text x="146" y="25.7" text-anchor="middle" font-size="9.6" >Monocytes</text>
<text x="223.5" y="25.7" text-anchor="middle" font-size="10" >DC</text>
<text x="329.4" y="25.7" text-anchor="middle" font-size="9.9" >mDC</text>
<text x="404.3" y="25.7" text-anchor="middle" font-size="10" >pDC</text>
<text x="75.2" y="190.4" text-anchor="middle" font-size="9.6" >Classical</text>
<text x="75.1" y="202.2" text-anchor="middle" font-size="9.6" >monocytes</text>
<text x="149.9" y="190.8" text-anchor="middle" font-size="9.9" >CD16<tspan font-size="7.3" dy="-3" dx="0.3">+</tspan><tspan dy="3" dx="0.2">SLAN</tspan><tspan font-size="8" dy="-3.2" dx="0.4">−</tspan></text>
<text x="150.2" y="202.3" text-anchor="middle" font-size="9.6" >monocytes</text>
<text x="222.9" y="190.9" text-anchor="middle" font-size="9.9" >CD16<tspan font-size="7.3" dy="-3" dx="0.3">+</tspan><tspan dy="3" dx="0.2">SLAN</tspan><tspan font-size="7.6" dy="-3" dx="0.3">+</tspan></text>
<text x="223.5" y="202.3" text-anchor="middle" font-size="9.6" >monocytes</text>
<text x="334.2" y="190.4" text-anchor="middle" font-size="9.6" >Classical</text>
<text x="334.1" y="202.2" text-anchor="middle" font-size="9.6" >monocytes</text>
<text x="406" y="190.3" text-anchor="middle" font-size="9.6" >Intermediate</text>
<text x="405.6" y="202.0" text-anchor="middle" font-size="9.6" >monocytes</text>
<text x="484.6" y="190.3" text-anchor="middle" font-size="9.6" >Non-classical</text>
<text x="484.6" y="202.0" text-anchor="middle" font-size="9.6" >monocytes</text>
<text x="74.5" y="216.7" text-anchor="middle" font-size="9"><tspan font-style="italic">P</tspan><tspan font-size="10.5" dx="0.9" dy="1.0">&lt;</tspan><tspan dx="1.1" dy="-1.0">.01</tspan></text>
<text x="221.2" y="216.7" text-anchor="middle" font-size="9"><tspan font-style="italic">P</tspan><tspan font-size="10.5" dx="0.9" dy="1.0">&lt;</tspan><tspan dx="1.1" dy="-1.0">.01</tspan></text>
<text x="333.8" y="216.7" text-anchor="middle" font-size="9"><tspan font-style="italic">P</tspan><tspan font-size="10.5" dx="0.9" dy="1.0">&lt;</tspan><tspan dx="1.1" dy="-1.0">.01</tspan></text>
<text x="406.0" y="216.4" text-anchor="middle" font-size="9"><tspan font-style="italic">P</tspan><tspan font-size="10.5" dx="0.9" dy="1.0">&lt;</tspan><tspan dx="1.1" dy="-1.0">.0001</tspan></text>
<text x="7.3" y="15.4" font-size="11.5" font-weight="bold" style="fill:#000;stroke:#000;stroke-width:0.4">A</text>
<text x="264.9" y="15.3" font-size="11.5" font-weight="bold" style="fill:#000;stroke:#000;stroke-width:0.4">B</text>
<text x="7.1" y="180.8" font-size="11.5" font-weight="bold" style="fill:#000;stroke:#000;stroke-width:0.4">C</text>
<text x="265.8" y="180.8" font-size="11.5" font-weight="bold" style="fill:#000;stroke:#000;stroke-width:0.4">D</text>
<text transform="translate(27.6,86.5) rotate(-90)" text-anchor="middle" font-size="10" font-weight="bold" style="fill:#333;stroke:none" textLength="48.5" lengthAdjust="spacingAndGlyphs">% of live PBMC</text>
<text transform="translate(280.9,86.3) rotate(-90)" text-anchor="middle" font-size="9.6" font-weight="bold" style="fill:#333;stroke:none" textLength="25.2" lengthAdjust="spacingAndGlyphs">% of DC</text>
<text transform="translate(26.7,267.6) rotate(-90)" text-anchor="middle" font-size="9" font-weight="bold" style="fill:#333;stroke:none" textLength="48.8" lengthAdjust="spacingAndGlyphs">% of monocytes</text>
<text transform="translate(286.2,267.6) rotate(-90)" text-anchor="middle" font-size="9" font-weight="bold" style="fill:#333;stroke:none" textLength="48.8" lengthAdjust="spacingAndGlyphs">% of monocytes</text>
<rect x="0.5" y="0.5" width="519" height="340" fill="none" stroke="#646464" stroke-width="1"/>
</svg>
</body></html>
